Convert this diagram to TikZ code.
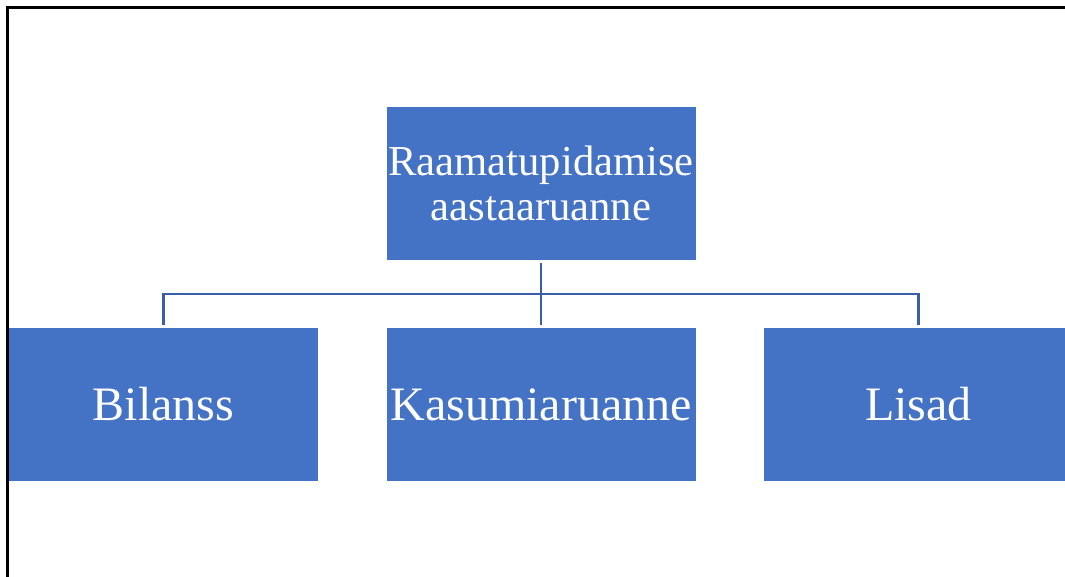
\documentclass[tikz,border=0pt]{standalone}
\usepackage{fontspec}
\setmainfont{Liberation Serif}
\definecolor{boxblue}{HTML}{4472C4}
\definecolor{lineblue}{HTML}{3A5FA8}
\begin{document}
\begin{tikzpicture}[x=0.75pt,y=-0.75pt,
  box/.style={fill=boxblue, draw=none, inner sep=0pt, minimum width=231.75pt, minimum height=114.75pt, text=white, align=center},
  conn/.style={draw=lineblue, line width=1.6pt}]
\useasboundingbox (0,0) rectangle (1065,577);
\fill[white] (0,0) rectangle (1065,577);
\clip (0,0) rectangle (1065,577);
\draw[black, line width=1.6pt] (7.5,577) -- (7.5,7.5) -- (1070,7.5);
\node[box, font=\fontsize{32}{33.75}\selectfont] (top) at (541,183.5) {Raamatupidamise\\aastaaruanne};
\node[box, font=\fontsize{36}{40}\selectfont] (b1) at (163.5,404.5) {Bilanss};
\node[box, font=\fontsize{36}{40}\selectfont] (b2) at (541,404.5) {Kasumiaruanne};
\node[box, font=\fontsize{36}{40}\selectfont] (b3) at (918.5,404.5) {Lisad};
\coordinate (bus) at (541,294);
\draw[conn, shorten <=2.25pt] (top.south) -- (bus);
\draw[conn, shorten <=2.25pt, shorten >=2.25pt] (b1.north) |- (bus) -| (b3.north);
\draw[conn, shorten >=2.25pt] (bus) -- (b2.north);
\end{tikzpicture}
\end{document}
